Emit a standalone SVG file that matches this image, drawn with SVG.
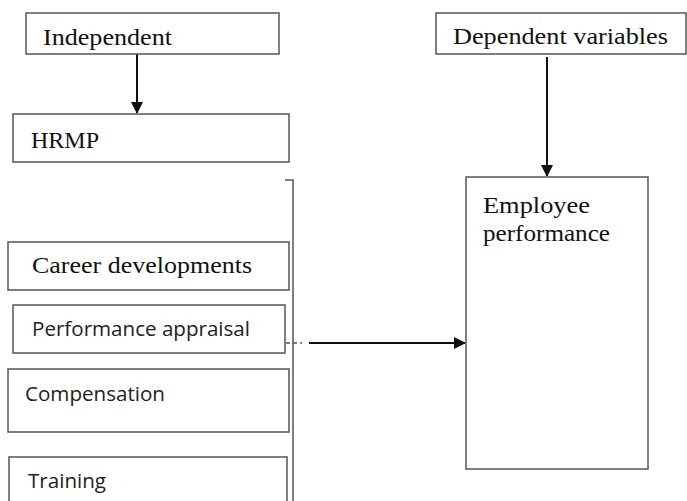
<svg xmlns="http://www.w3.org/2000/svg" width="687" height="501" viewBox="0 0 687 501">
<style>
.box{fill:#fff;stroke:#555;stroke-width:1.5}
.serif{font-family:"Liberation Serif","Times New Roman",serif;font-size:24px;fill:#111}
.sans{font-family:"Open Sans","Liberation Sans",Arial,sans-serif;font-size:20px;fill:#222}
.arr{stroke:#111;stroke-width:2;fill:none;marker-end:url(#ah)}
.br{stroke:#555;stroke-width:1.5;fill:none}
</style>
<defs>
<marker id="ah" markerWidth="12" markerHeight="12" refX="11" refY="6" orient="auto" markerUnits="userSpaceOnUse">
<path d="M0,0 L12,6 L0,12 Z" fill="#111"/>
</marker>
</defs>
<rect width="687" height="501" fill="#fff"/>
<g id="connectors">
<line class="arr" x1="137" y1="54" x2="137" y2="113"/>
<line class="arr" x1="547" y1="57" x2="547" y2="176"/>
<line class="arr" x1="309" y1="343" x2="465" y2="343"/>
<path class="br" d="M285,180 L293,180 L293,501"/>
<line class="br" x1="286" y1="343" x2="302" y2="343" stroke-dasharray="4,3"/>
</g>
<g id="independent">
<rect class="box" x="26" y="13" width="253" height="41"/>
<text class="serif" x="43" y="45" textLength="129" lengthAdjust="spacingAndGlyphs">Independent</text>
</g>
<g id="hrmp">
<rect class="box" x="13" y="114" width="276" height="48"/>
<text class="serif" x="31" y="148">HRMP</text>
</g>
<g id="dependent">
<rect class="box" x="436" y="13" width="250" height="41"/>
<text class="serif" x="453" y="44" textLength="215" lengthAdjust="spacingAndGlyphs">Dependent variables</text>
</g>
<g id="employee">
<rect class="box" x="466" y="177" width="182" height="292"/>
<text class="serif" x="483" y="213" textLength="107" lengthAdjust="spacingAndGlyphs">Employee</text>
<text class="serif" x="483" y="241" textLength="127" lengthAdjust="spacingAndGlyphs">performance</text>
</g>
<g id="career">
<rect class="box" x="8" y="242" width="281" height="48"/>
<text class="serif" x="32" y="273" textLength="220" lengthAdjust="spacingAndGlyphs">Career developments</text>
</g>
<g id="appraisal">
<rect class="box" x="13" y="305" width="272" height="48"/>
<text class="sans" x="32" y="336" textLength="218" lengthAdjust="spacingAndGlyphs">Performance appraisal</text>
</g>
<g id="compensation">
<rect class="box" x="8" y="369" width="281" height="63"/>
<text class="sans" x="25" y="401" textLength="140" lengthAdjust="spacingAndGlyphs">Compensation</text>
</g>
<g id="training">
<rect class="box" x="9" y="457" width="278" height="60"/>
<text class="sans" x="28" y="488" textLength="78" lengthAdjust="spacingAndGlyphs">Training</text>
</g>
</svg>
